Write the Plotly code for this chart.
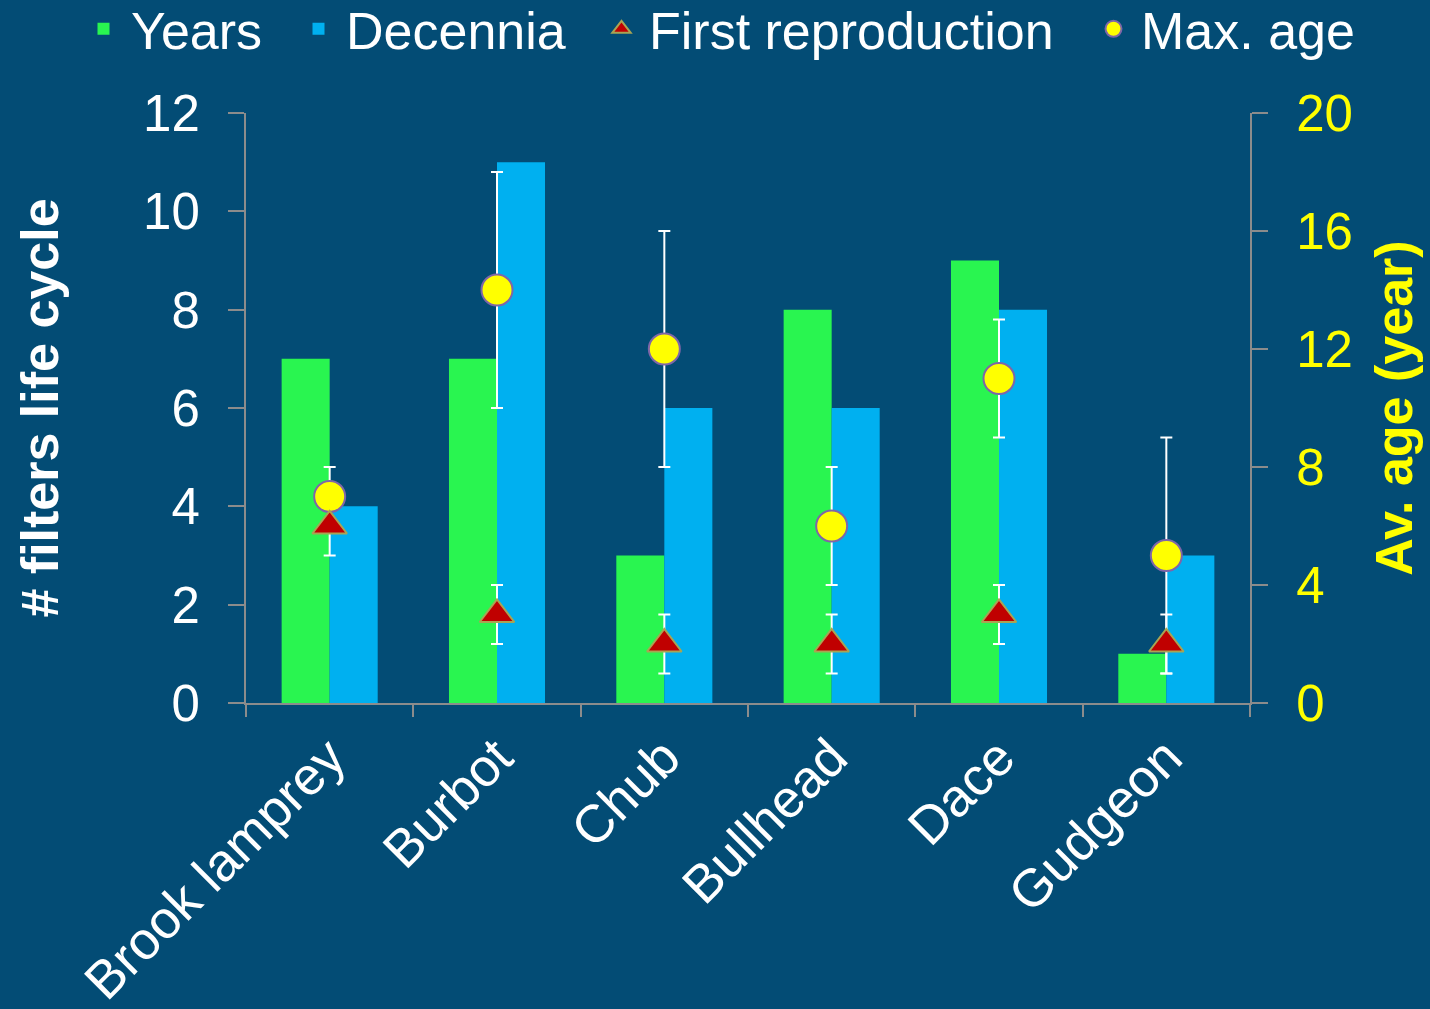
import plotly.graph_objects as go

species = ["Brook lamprey", "Burbot", "Chub", "Bullhead", "Dace", "Gudgeon"]
years = [7, 7, 3, 8, 9, 1]
decennia = [4, 11, 6, 6, 8, 3]
first_repro = [6, 3, 2, 2, 3, 2]
first_repro_err = [1, 1, 1, 1, 1, 1]
max_age = [7, 14, 12, 6, 11, 5]
max_age_err = [1, 4, 4, 2, 2, 4]

left_ticks = [0, 2, 4, 6, 8, 10, 12]
right_ticks = [0, 4, 8, 12, 16, 20]

BG = "#034C75"
FONT = "Arial, Liberation Sans, sans-serif"
AXIS_GREY = "#8C8C8C"
LEGEND_FONT = 52

fig = go.Figure()

fig.add_trace(go.Bar(
    x=species, y=years, name="Years",
    marker=dict(color="#29F550", line=dict(width=0)),
    legend="legend",
))
fig.add_trace(go.Bar(
    x=species, y=decennia, name="Decennia",
    marker=dict(color="#00B0F0", line=dict(width=0)),
    legend="legend2",
))

# error bars first, so every marker sits on top of them
for vals, errs in [(max_age, max_age_err), (first_repro, first_repro_err)]:
    fig.add_trace(go.Scatter(
        x=species, y=vals, mode="markers", yaxis="y2",
        marker=dict(size=1, color="rgba(0,0,0,0)"),
        error_y=dict(type="data", array=errs, color="white", thickness=2, width=6),
        showlegend=False, hoverinfo="skip",
    ))

fig.add_trace(go.Scatter(
    x=species, y=max_age, mode="markers", yaxis="y2", name="Max. age",
    marker=dict(symbol="circle", size=31, color="#FFFF00",
                line=dict(color="#7F66A8", width=2)),
    legend="legend4",
))
fig.add_trace(go.Scatter(
    x=species, y=first_repro, mode="markers", yaxis="y2", name="First reproduction",
    marker=dict(symbol="triangle-up", size=30, color="#C00000",
                line=dict(color="#A9A453", width=2)),
    legend="legend3",
))


def legend_box(text_left):
    # one legend per entry so each label lands where it does in the original
    return dict(
        orientation="h",
        xref="container", yref="container",
        x=(text_left - 57) / 1430, xanchor="left",
        y=1 - 29 / 1009, yanchor="middle",
        font=dict(size=LEGEND_FONT, color="white", family=FONT),
        itemwidth=45,
        bgcolor="rgba(0,0,0,0)",
    )


fig.update_layout(
    width=1430,
    height=1009,
    paper_bgcolor=BG,
    plot_bgcolor=BG,
    font=dict(family=FONT, color="white", size=50),
    margin=dict(l=246, r=180, t=113, b=306, autoexpand=False),
    barmode="group",
    bargap=0.426,
    bargroupgap=0,
    showlegend=True,
    legend=legend_box(133),
    legend2=legend_box(348),
    legend3=legend_box(651),
    legend4=legend_box(1143),
    xaxis=dict(
        showline=True, linecolor=AXIS_GREY, linewidth=2,
        ticks="outside", tickson="boundaries", ticklen=12, tickwidth=2, tickcolor=AXIS_GREY,
        tickangle=-45, tickfont=dict(size=53, color="white"),
        showgrid=False, zeroline=False, automargin=False,
    ),
    yaxis=dict(
        range=[0, 12], tickvals=left_ticks,
        showline=True, linecolor=AXIS_GREY, linewidth=2,
        ticks="outside", ticklen=16, tickwidth=2, tickcolor=AXIS_GREY,
        ticklabelstandoff=18,
        tickfont=dict(size=51, color="white"),
        showgrid=False, zeroline=False, automargin=False,
        title=dict(text="# filters life cycle",
                   font=dict(size=52, color="white", weight="bold"), standoff=68),
    ),
    yaxis2=dict(
        range=[0, 20], tickvals=right_ticks,
        overlaying="y", side="right",
        showline=True, linecolor=AXIS_GREY, linewidth=2,
        ticks="outside", ticklen=16, tickwidth=2, tickcolor=AXIS_GREY,
        ticklabelstandoff=18,
        tickfont=dict(size=51, color="#FFFF00"),
        showgrid=False, zeroline=False, automargin=False,
        title=dict(text="Av. age (year)",
                   font=dict(size=52, color="#FFFF00", weight="bold"), standoff=24),
    ),
)

fig.write_html(
    "out.html",
    config={"displayModeBar": False},
    post_script="document.body.style.margin='0';",
)
